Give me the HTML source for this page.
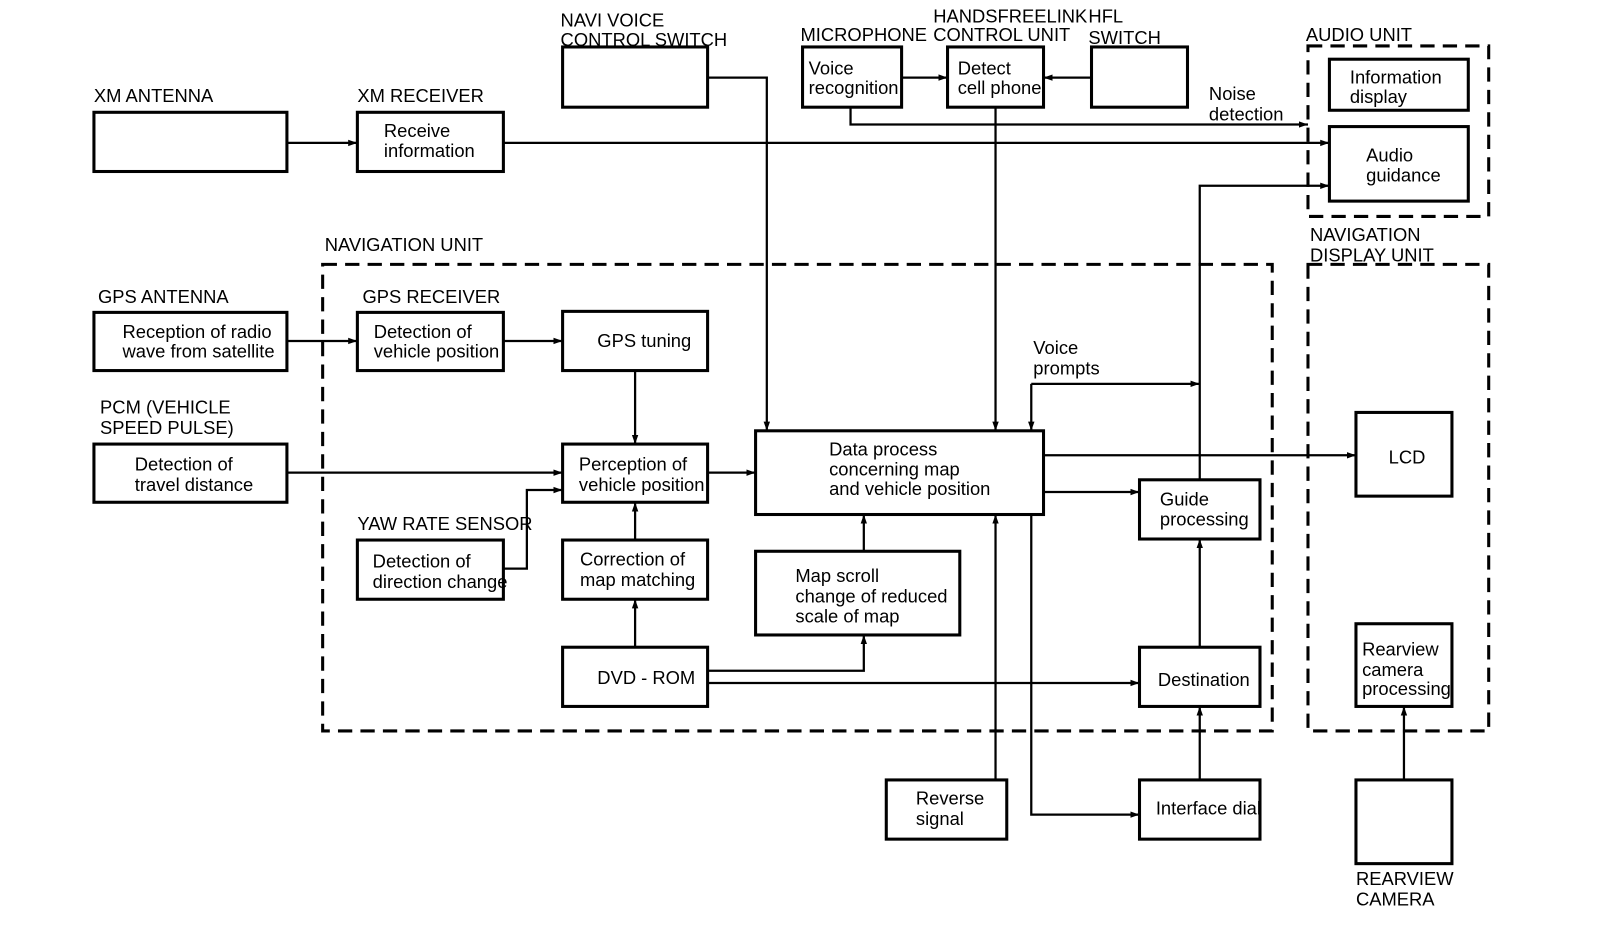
<!DOCTYPE html>
<html><head><meta charset="utf-8"><style>
html,body{margin:0;padding:0;background:#fff;}
svg{display:block;}
text{font-family:"Liberation Sans",sans-serif;font-size:18px;fill:#000;}
</style></head><body>
<svg width="1600" height="930" viewBox="0 0 1567 911" preserveAspectRatio="none" xmlns="http://www.w3.org/2000/svg">
<defs>
<marker id="a" viewBox="0 0 10 10" refX="10" refY="5" markerWidth="9" markerHeight="9" markerUnits="userSpaceOnUse" orient="auto">
<path d="M0,1.5 L10,5 L0,8.5 Z" fill="#000"/></marker>
</defs>
<rect width="1567" height="911" fill="#fff"/>
<g fill="none" stroke="#000" stroke-width="3">
<rect x="92" y="110" width="189" height="58"/>
<rect x="350" y="110" width="143" height="58"/>
<rect x="551" y="46" width="142" height="59"/>
<rect x="786" y="46" width="97" height="59"/>
<rect x="928" y="46" width="94" height="59"/>
<rect x="1069" y="46" width="94" height="59"/>
<rect x="1302" y="58" width="136" height="50"/>
<rect x="1302" y="124" width="136" height="73"/>
<rect x="92" y="306" width="189" height="57"/>
<rect x="350" y="306" width="143" height="57"/>
<rect x="551" y="305" width="142" height="58"/>
<rect x="92" y="435" width="189" height="57"/>
<rect x="551" y="435" width="142" height="57"/>
<rect x="740" y="422" width="282" height="82"/>
<rect x="1328" y="404" width="94" height="82"/>
<rect x="1116" y="470" width="118" height="58"/>
<rect x="350" y="529" width="143" height="58"/>
<rect x="551" y="529" width="142" height="58"/>
<rect x="740" y="540" width="200" height="82"/>
<rect x="551" y="634" width="142" height="58"/>
<rect x="1116" y="634" width="118" height="58"/>
<rect x="1328" y="611" width="94" height="81"/>
<rect x="868" y="764" width="118" height="58"/>
<rect x="1116" y="764" width="118" height="58"/>
<rect x="1328" y="764" width="94" height="82"/>
</g>
<g fill="none" stroke="#000" stroke-width="3" stroke-dasharray="14,8">
<rect x="1281" y="45" width="177" height="167"/>
<rect x="316" y="259" width="930" height="457"/>
<rect x="1281" y="259" width="177" height="457"/>
</g>
<g fill="none" stroke="#000" stroke-width="2.2" marker-end="url(#a)">
<path d="M281,140 H350"/>
<path d="M493,140 H1302"/>
<path d="M833,105 V122 H1281"/>
<path d="M883,76 H928"/>
<path d="M1069,76 H1022"/>
<path d="M693,76 H751 V422"/>
<path d="M975,105 V422"/>
<path d="M1175,470 V182 H1302"/>
<path d="M1010,376 H1175"/>
<path d="M1010,376 V422"/>
<path d="M1022,446 H1328"/>
<path d="M1022,482 H1116"/>
<path d="M975,764 V504"/>
<path d="M1010,504 V798 H1116"/>
<path d="M1175,764 V692"/>
<path d="M1175,634 V528"/>
<path d="M693,669 H1116"/>
<path d="M693,657 H846 V622"/>
<path d="M846,540 V504"/>
<path d="M622,634 V587"/>
<path d="M622,529 V492"/>
<path d="M622,363 V435"/>
<path d="M493,334 H551"/>
<path d="M281,334 H350"/>
<path d="M281,463 H551"/>
<path d="M493,557 H516 V480 H551"/>
<path d="M693,463 H740"/>
<path d="M1375,764 V692"/>
</g>
<g>
<text x="92" y="100">XM ANTENNA</text>
<text x="350" y="100">XM RECEIVER</text>
<text x="376" y="134">Receive</text><text x="376" y="154">information</text>
<text x="549" y="26">NAVI VOICE</text><text x="549" y="45">CONTROL SWITCH</text>
<text x="784" y="40">MICROPHONE</text>
<text x="914" y="22">HANDSFREELINK</text><text x="914" y="40">CONTROL UNIT</text>
<text x="1066" y="22">HFL</text><text x="1066" y="43">SWITCH</text>
<text x="792" y="73">Voice</text><text x="792" y="92">recognition</text>
<text x="938" y="73">Detect</text><text x="938" y="92">cell phone</text>
<text x="1279" y="40">AUDIO UNIT</text>
<text x="1322" y="82">Information</text><text x="1322" y="101">display</text>
<text x="1338" y="158">Audio</text><text x="1338" y="178">guidance</text>
<text x="1184" y="98">Noise</text><text x="1184" y="118">detection</text>
<text x="318" y="246">NAVIGATION UNIT</text>
<text x="1283" y="236">NAVIGATION</text><text x="1283" y="256">DISPLAY UNIT</text>
<text x="96" y="297">GPS ANTENNA</text>
<text x="120" y="331">Reception of radio</text><text x="120" y="350">wave from satellite</text>
<text x="355" y="297">GPS RECEIVER</text>
<text x="366" y="331">Detection of</text><text x="366" y="350">vehicle position</text>
<text x="585" y="340">GPS tuning</text>
<text x="98" y="405">PCM (VEHICLE</text><text x="98" y="425">SPEED PULSE)</text>
<text x="132" y="461">Detection of</text><text x="132" y="481">travel distance</text>
<text x="567" y="461">Perception of</text><text x="567" y="481">vehicle position</text>
<text x="812" y="446">Data process</text><text x="812" y="466">concerning map</text><text x="812" y="485">and vehicle position</text>
<text x="1012" y="347">Voice</text><text x="1012" y="367">prompts</text>
<text x="1360" y="454">LCD</text>
<text x="1136" y="495">Guide</text><text x="1136" y="515">processing</text>
<text x="350" y="519">YAW RATE SENSOR</text>
<text x="365" y="556">Detection of</text><text x="365" y="576">direction change</text>
<text x="568" y="554">Correction of</text><text x="568" y="574">map matching</text>
<text x="779" y="570">Map scroll</text><text x="779" y="590">change of reduced</text><text x="779" y="610">scale of map</text>
<text x="585" y="670">DVD - ROM</text>
<text x="1134" y="672">Destination</text>
<text x="1334" y="642">Rearview</text><text x="1334" y="662">camera</text><text x="1334" y="681">processing</text>
<text x="897" y="788">Reverse</text><text x="897" y="808">signal</text>
<text x="1132" y="798">Interface dial</text>
<text x="1328" y="867">REARVIEW</text><text x="1328" y="887">CAMERA</text>
</g>
</svg>
</body></html>
